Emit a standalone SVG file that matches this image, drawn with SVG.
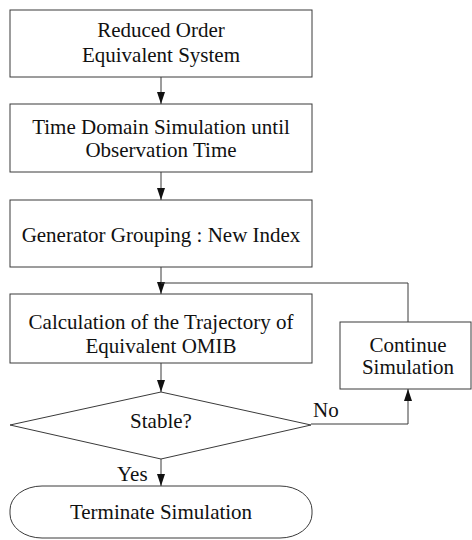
<svg xmlns="http://www.w3.org/2000/svg" width="472" height="540" viewBox="0 0 472 540">
<style>
.box{fill:none;stroke:#3a3a3a;stroke-width:1}
.ln{fill:none;stroke:#3a3a3a;stroke-width:1}
text{font-family:"Liberation Serif","Times New Roman",serif;font-size:21px;fill:#111;text-anchor:middle}
.l{text-anchor:start}
</style>
<defs>
<marker id="ah" markerUnits="userSpaceOnUse" markerWidth="12" markerHeight="8" refX="12" refY="4" viewBox="0 0 12 8" orient="auto">
<path d="M0,0 L12,4 L0,8 z" fill="#111"/>
</marker>
</defs>
<rect width="472" height="540" fill="#fff"/>
<g id="n1"><rect class="box" x="10" y="10" width="302" height="67"/><text x="161" y="37">Reduced Order</text><text x="161" y="62">Equivalent System</text></g>
<g id="n2"><rect class="box" x="10" y="104" width="302" height="68"/><text x="161" y="134">Time Domain Simulation until</text><text x="161" y="157">Observation Time</text></g>
<g id="n3"><rect class="box" x="10" y="200" width="302" height="67"/><text x="161" y="242">Generator Grouping : New Index</text></g>
<g id="n4"><rect class="box" x="10" y="294" width="302" height="69"/><text x="161" y="329">Calculation of the Trajectory of</text><text x="161" y="353">Equivalent OMIB</text></g>
<g id="n5"><rect class="box" x="340" y="322" width="131" height="67"/><text x="408" y="352">Continue</text><text x="408" y="374">Simulation</text></g>
<g id="n6"><polygon class="box" points="10,425 161,392 311,425 161,459"/><text x="161" y="428">Stable?</text></g>
<g id="n7"><rect class="box" x="10" y="486" width="302" height="52" rx="32" ry="24"/><text x="161" y="519">Terminate Simulation</text></g>
<g id="connectors">
<line class="ln" x1="161" y1="77" x2="161" y2="104" marker-end="url(#ah)"/>
<line class="ln" x1="161" y1="172" x2="161" y2="200" marker-end="url(#ah)"/>
<line class="ln" x1="161" y1="267" x2="161" y2="294" marker-end="url(#ah)"/>
<line class="ln" x1="161" y1="363" x2="161" y2="392" marker-end="url(#ah)"/>
<line class="ln" x1="161" y1="459" x2="161" y2="486" marker-end="url(#ah)"/>
<polyline class="ln" points="311,424 408,424 408,389" marker-end="url(#ah)"/>
<polyline class="ln" points="408,322 408,283 161,283"/>
<text class="l" x="313" y="417">No</text>
<text class="l" x="117" y="481">Yes</text>
</g>
</svg>
